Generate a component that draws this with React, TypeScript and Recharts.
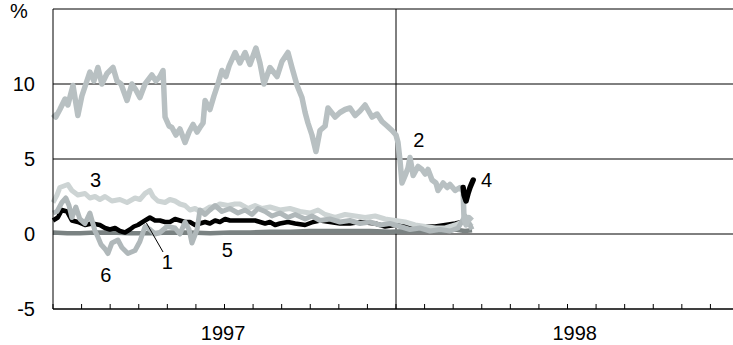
import React from "react"
import {
  LineChart,
  Line,
  XAxis,
  YAxis,
  CartesianGrid,
  ReferenceLine,
  ReferenceDot,
} from "recharts"

// x = months since Jan 1997, y = percent
const series1: [number, number][] = [
  [0, 0.9], [0.17, 1.1], [0.31, 1.6], [0.49, 1.5], [0.66, 0.9], [0.87, 0.8], [1.12, 0.6],
  [1.36, 0.7], [1.64, 0.6], [1.82, 0.4], [1.99, 0.3], [2.17, 0.4], [2.34, 0.2], [2.52, 0.1],
  [2.69, 0.3], [2.83, 0.5], [2.97, 0.6], [3.22, 0.9], [3.39, 1.1], [3.57, 0.9], [3.74, 0.9],
  [3.92, 0.8], [4.09, 0.8], [4.27, 1.0], [4.44, 0.9], [4.62, 0.8], [4.79, 0.8], [4.97, 0.6],
  [5.14, 0.7], [5.32, 0.8], [5.49, 0.7], [5.67, 0.9], [5.84, 0.8], [6.02, 1.0], [6.19, 0.9],
  [6.47, 0.9], [6.72, 0.9], [7.07, 0.9], [7.42, 0.7], [7.59, 0.8], [7.77, 0.6], [7.94, 0.7],
  [8.22, 0.8], [8.47, 0.7], [8.82, 0.6], [9.1, 0.8], [9.34, 0.9], [9.69, 0.8], [10.04, 0.7],
  [10.39, 0.7], [10.74, 0.8], [11.27, 0.7], [11.62, 0.5], [11.97, 0.6], [12.32, 0.6],
  [12.67, 0.5], [13.02, 0.5], [13.37, 0.5], [13.72, 0.6], [14.07, 0.7], [14.31, 0.8],
]

const series2: [number, number][] = [
  [0, 8.0], [0.1, 7.8], [0.24, 8.3], [0.42, 9.0], [0.52, 8.6], [0.7, 9.9], [0.87, 7.9],
  [1.01, 9.2], [1.15, 10.0], [1.29, 10.8], [1.43, 10.2], [1.57, 11.1], [1.71, 10.0],
  [1.89, 10.7], [2.1, 11.1], [2.24, 10.2], [2.38, 10.0], [2.59, 8.9], [2.76, 10.0],
  [2.9, 9.6], [3.04, 9.1], [3.22, 10.0], [3.46, 10.6], [3.6, 10.2], [3.74, 10.5],
  [3.85, 10.9], [3.92, 7.8], [4.06, 7.2], [4.16, 7.1], [4.3, 6.6], [4.44, 7.0], [4.62, 6.1],
  [4.76, 6.8], [4.9, 7.3], [5.04, 6.8], [5.14, 7.1], [5.25, 7.4], [5.32, 8.9], [5.49, 8.3],
  [5.63, 9.2], [5.77, 10.0], [5.91, 10.9], [6.05, 10.5], [6.16, 11.2], [6.37, 12.1],
  [6.54, 11.4], [6.72, 12.1], [6.89, 11.3], [7.1, 12.4], [7.24, 11.4], [7.38, 10.0],
  [7.59, 11.1], [7.84, 10.5], [8.01, 11.5], [8.22, 12.1], [8.36, 11.1], [8.54, 9.9],
  [8.71, 9.1], [8.82, 8.1], [8.92, 7.4], [9.06, 6.6], [9.2, 5.5], [9.34, 6.9], [9.52, 7.2],
  [9.62, 8.4], [9.87, 7.8], [10.04, 8.1], [10.22, 8.3], [10.39, 8.4], [10.57, 7.9],
  [10.74, 8.2], [10.92, 8.6], [11.16, 7.8], [11.34, 8.0], [11.51, 7.5], [11.69, 7.2],
  [11.86, 6.9], [12.0, 6.6], [12.07, 6.1], [12.14, 4.9], [12.21, 3.4], [12.32, 3.9],
  [12.42, 4.4], [12.49, 5.1], [12.6, 3.9], [12.77, 4.5], [12.91, 4.3], [13.02, 4.0],
  [13.12, 4.3], [13.26, 3.6], [13.4, 3.4], [13.47, 2.9], [13.65, 3.4], [13.79, 3.1],
  [13.89, 3.3], [14.07, 2.9], [14.24, 3.1], [14.35, 2.8], [14.38, 1.0], [14.45, 0.6],
  [14.55, 1.1], [14.66, 0.9],
]

const series3: [number, number][] = [
  [0, 2.1], [0.14, 2.6], [0.24, 3.1], [0.38, 3.2], [0.52, 3.3], [0.66, 2.9], [0.87, 2.6],
  [1.12, 2.7], [1.29, 2.4], [1.47, 2.5], [1.64, 2.3], [1.82, 2.5], [2.06, 2.2], [2.34, 2.3],
  [2.59, 2.1], [2.87, 2.4], [3.04, 2.3], [3.22, 2.7], [3.39, 2.9], [3.5, 2.5], [3.67, 2.2],
  [3.92, 2.1], [4.09, 2.3], [4.27, 2.2], [4.44, 2.0], [4.62, 1.9], [4.79, 1.6], [4.97, 1.7],
  [5.14, 1.5], [5.32, 1.6], [5.49, 1.8], [5.67, 1.8], [5.84, 2.0], [6.12, 1.9], [6.37, 2.0],
  [6.54, 2.0], [6.82, 1.7], [7.07, 1.9], [7.31, 1.7], [7.59, 1.8], [7.94, 1.6], [8.29, 1.7],
  [8.64, 1.5], [8.99, 1.4], [9.27, 1.6], [9.52, 1.3], [9.87, 1.1], [10.22, 1.3], [10.57, 1.2],
  [10.92, 1.1], [11.27, 1.2], [11.62, 1.0], [11.97, 0.9], [12.32, 0.8], [12.67, 0.6],
  [13.02, 0.5], [13.37, 0.4], [13.72, 0.4], [14.07, 0.6], [14.31, 0.8], [14.52, 0.7],
  [14.66, 0.5],
]

const series4: [number, number][] = [
  [14.35, 3.1], [14.38, 2.6], [14.45, 2.2], [14.52, 2.7], [14.59, 3.1], [14.7, 3.6],
]

const series5: [number, number][] = [
  [0, 0.1], [0.5, 0.05], [0.94, 0.05], [1.5, 0.1], [1.99, 0.1], [2.7, 0.05], [3.39, 0.05],
  [4.1, 0.1], [4.79, 0.1], [5.5, 0.05], [6.19, 0.1], [6.9, 0.1], [7.59, 0.15], [8.3, 0.15],
  [8.99, 0.2], [9.7, 0.2], [10.39, 0.2], [11.1, 0.2], [11.79, 0.15], [12.5, 0.2],
  [13.19, 0.2], [13.6, 0.15], [14.07, 0.3], [14.4, 0.2], [14.66, 0.25],
]

const series6: [number, number][] = [
  [0, 1.4], [0.14, 1.5], [0.31, 2.1], [0.45, 2.4], [0.56, 1.9], [0.66, 1.1], [0.8, 1.8],
  [0.94, 1.0], [1.12, 0.7], [1.29, 1.4], [1.47, 0.2], [1.57, -0.2], [1.68, -0.7],
  [1.82, -1.0], [1.92, -1.3], [2.06, -0.6], [2.27, -0.4], [2.41, -0.9], [2.62, -1.3],
  [2.87, -1.1], [3.04, -0.5], [3.22, 0.5], [3.39, 0.3], [3.57, 0.0], [3.74, 0.1], [3.99, 0.5],
  [4.27, 0.4], [4.44, 0.0], [4.62, 0.8], [4.76, 0.3], [4.86, -0.6], [5.04, 0.3], [5.14, 1.6],
  [5.32, 1.3], [5.49, 1.6], [5.67, 1.9], [5.91, 1.5], [6.19, 1.7], [6.47, 1.4], [6.72, 1.6],
  [6.96, 1.3], [7.17, 1.7], [7.42, 1.5], [7.66, 1.2], [7.94, 1.4], [8.22, 1.1], [8.47, 1.3],
  [8.82, 1.0], [9.06, 1.2], [9.34, 0.9], [9.69, 1.0], [10.04, 0.8], [10.39, 0.9], [10.74, 0.7],
  [11.09, 0.8], [11.44, 0.6], [11.79, 0.7], [12.14, 0.5], [12.49, 0.3], [12.84, 0.4],
  [13.19, 0.2], [13.54, 0.3], [13.89, 0.2], [14.17, 0.4], [14.42, 1.2], [14.59, 0.6],
  [14.66, 0.3],
]

const yTicks = [-5, 0, 5, 10, 15]
const monthTicks = Array.from({ length: 25 }, (_, i) => i)
const yearLabels = [
  { label: "1997", at: 5.95 },
  { label: "1998", at: 18.25 },
]

// series number labels, placed in data coordinates
const seriesLabels = [
  { name: "1", m: 4.0, v: -1.87 },
  { name: "2", m: 12.8, v: 6.27 },
  { name: "3", m: 1.49, v: 3.6 },
  { name: "4", m: 15.17, v: 3.6 },
  { name: "5", m: 6.1, v: -1.07 },
  { name: "6", m: 1.85, v: -2.7 },
]
const leader = [
  { x: 3.27, y: 0.73 },
  { x: 3.85, y: -1.2 },
]

const toPoints = (arr: [number, number][]) => arr.map(([m, v]) => ({ m, v }))

const FONT = "'Liberation Sans', Arial, sans-serif"

const MonthTick = (props: any) => {
  const { x, y, payload } = props
  const value = payload.value as number
  const year = yearLabels.find((d) => d.at === value)
  return (
    <g>
      {Number.isInteger(value) && (
        <line x1={x} x2={x} y1={y} y2={y - 5} stroke="#000" strokeWidth={1} />
      )}
      {year && (
        <text x={x} y={y + 31} textAnchor="middle" fontSize={20} fontFamily={FONT} fill="#000">
          {year.label}
        </text>
      )}
    </g>
  )
}

export default function App() {
  const xTicks = [...monthTicks, ...yearLabels.map((d) => d.at).filter((a) => !Number.isInteger(a))].sort(
    (a, b) => a - b
  )
  return (
    <div
      style={{
        position: "absolute",
        left: 0,
        top: 0,
        width: 733,
        height: 345,
        overflow: "hidden",
        background: "#fff",
        fontFamily: FONT,
      }}
    >
      <div
        style={{
          position: "absolute",
          left: 10,
          top: 0,
          fontSize: 20,
          lineHeight: "normal",
          color: "#000",
        }}
      >
        %
      </div>
      <LineChart width={745} height={345} margin={{ top: 9, right: 6, bottom: 0, left: 0 }}>
        <CartesianGrid vertical={false} stroke="#000" strokeWidth={1} />
        <XAxis
          dataKey="m"
          type="number"
          domain={[0, 24]}
          ticks={xTicks}
          interval={0}
          height={36}
          tickLine={false}
          tickSize={0}
          tickMargin={0}
          axisLine={{ stroke: "#000" }}
          tick={<MonthTick />}
        />
        <YAxis
          type="number"
          domain={[-5, 15]}
          ticks={yTicks}
          interval={0}
          width={53}
          tickLine={false}
          tickSize={0}
          tickMargin={18}
          axisLine={{ stroke: "#000" }}
          tickFormatter={(v: number) => (v === 15 ? "" : String(v))}
          tick={{ fontSize: 20, fill: "#000", fontFamily: FONT }}
        />
        <ReferenceLine x={12} stroke="#000" strokeWidth={1} />
        <Line
          data={toPoints(series5)}
          dataKey="v"
          stroke="#7a8282"
          strokeWidth={4.5}
          dot={false}
          strokeLinejoin="round"
          isAnimationActive={false}
        />
        <Line
          data={toPoints(series1)}
          dataKey="v"
          stroke="#000"
          strokeWidth={4.5}
          dot={false}
          strokeLinejoin="round"
          isAnimationActive={false}
        />
        <Line
          data={toPoints(series3)}
          dataKey="v"
          stroke="#cdd4d4"
          strokeWidth={5}
          dot={false}
          strokeLinejoin="round"
          isAnimationActive={false}
        />
        <Line
          data={toPoints(series6)}
          dataKey="v"
          stroke="#b0b8ba"
          strokeWidth={5}
          dot={false}
          strokeLinejoin="round"
          isAnimationActive={false}
        />
        <Line
          data={toPoints(series2)}
          dataKey="v"
          stroke="#b8c0c2"
          strokeWidth={5.5}
          dot={false}
          strokeLinejoin="round"
          isAnimationActive={false}
        />
        <Line
          data={toPoints(series4)}
          dataKey="v"
          stroke="#000"
          strokeWidth={5.5}
          dot={false}
          strokeLinejoin="round"
          strokeLinecap="round"
          isAnimationActive={false}
        />
        <ReferenceLine segment={leader} stroke="#000" strokeWidth={1} />
        {seriesLabels.map((s) => (
          <ReferenceDot
            key={s.name}
            x={s.m}
            y={s.v}
            r={0}
            fill="none"
            stroke="none"
            label={{ value: s.name, position: "center", fontSize: 20, fill: "#000", fontFamily: FONT }}
          />
        ))}
      </LineChart>
    </div>
  )
}
